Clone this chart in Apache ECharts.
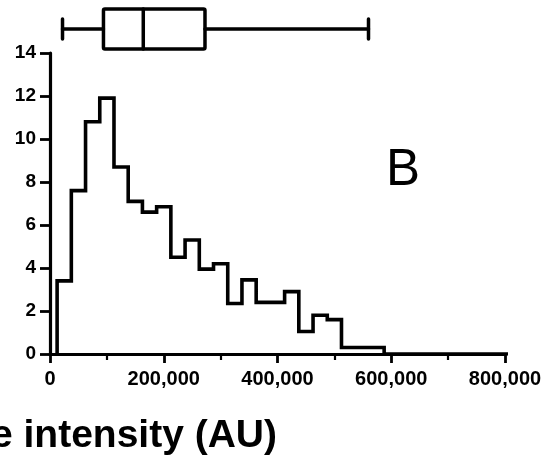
<!DOCTYPE html>
<html>
<head>
<meta charset="utf-8">
<script src="https://cdn.jsdelivr.net/npm/echarts@6/dist/echarts.min.js"></script>
<style>
  html, body { margin: 0; padding: 0; background: #fff; }
  #chart { width: 555px; height: 464px; }
</style>
</head>
<body>
<div id="chart"></div>
<script>
// histogram bins (centre of each bin, width 25,000) and their heights
let binWidth = 25000;
let binCenters = [25000, 50000, 75000, 100000, 125000, 150000, 175000, 200000,
    225000, 250000, 275000, 300000, 325000, 350000, 375000, 400000,
    425000, 450000, 475000, 500000, 525000, 550000, 575000, 600000,
    625000, 650000, 675000, 700000, 725000, 750000, 775000, 800000];
let binValues = [3.4, 7.6, 10.8, 11.9, 8.7, 7.1, 6.6, 6.85,
    4.5, 5.3, 3.95, 4.2, 2.35, 3.45, 2.4, 2.4,
    2.9, 1.05, 1.8, 1.6, 0.3, 0.3, 0.3, 0,
    0, 0, 0, 0, 0, 0, 0, 0];

// box & whiskers: min, Q1, median, Q3, max
let boxStats = [22000, 94000, 164000, 272500, 560000];

let xTicks = [0, 200000, 400000, 600000, 800000];
let yTicks = [0, 2, 4, 6, 8, 10, 12, 14];

let fontFamily = '"Liberation Sans", Arial, sans-serif';

// step line through bin edges: first the left edge at 0, then each right edge with the bin height
let stepData = [[binCenters[0] - binWidth / 2, 0]];
binCenters.forEach((c, i) => {
    stepData.push([c + binWidth / 2, binValues[i]]);
});

let chart = echarts.init(document.getElementById('chart'), null, { renderer: 'canvas' });

let option = {
    backgroundColor: '#fff',
    animation: false,
    grid: [
        { left: 50, right: 50, top: 53, bottom: 110 },
        { left: 50, right: 50, top: 9, height: 40 }
    ],
    xAxis: [{
        gridIndex: 0,
        type: 'value',
        min: xTicks[0],
        max: xTicks[xTicks.length - 1],
        interval: 200000,
        splitLine: { show: false },
        axisLine: { show: true, onZero: false, lineStyle: { color: '#000', width: 3.2 } },
        axisTick: { show: true, length: 9, lineStyle: { color: '#000', width: 2.8 } },
        minorTick: { show: true, splitNumber: 2, length: 6, lineStyle: { color: '#000', width: 2.2 } },
        axisLabel: {
            color: '#000',
            fontFamily: fontFamily,
            fontWeight: 'bold',
            fontSize: 20,
            margin: 15,
            formatter: v => v.toLocaleString('en-US')
        }
    }, {
        gridIndex: 1,
        type: 'value',
        min: xTicks[0],
        max: xTicks[xTicks.length - 1],
        show: false
    }],
    yAxis: [{
        gridIndex: 0,
        type: 'value',
        min: yTicks[0],
        max: yTicks[yTicks.length - 1],
        interval: 2,
        splitLine: { show: false },
        axisLine: { show: true, onZero: false, lineStyle: { color: '#000', width: 3.2 } },
        axisTick: { show: true, length: 10, lineStyle: { color: '#000', width: 2.8 } },
        axisLabel: {
            color: '#000',
            fontFamily: fontFamily,
            fontWeight: 'bold',
            fontSize: 19,
            margin: 14
        }
    }, {
        gridIndex: 1,
        type: 'value',
        min: 0,
        max: 1,
        show: false
    }],
    series: [{
        type: 'line',
        xAxisIndex: 0,
        yAxisIndex: 0,
        step: 'start',
        data: stepData,
        symbol: 'none',
        clip: true,
        lineStyle: { color: '#000', width: 3.6, join: 'miter' }
    }, {
        type: 'custom',
        xAxisIndex: 1,
        yAxisIndex: 1,
        data: [boxStats],
        renderItem: function (params, api) {
            let lo = api.value(0), q1 = api.value(1), med = api.value(2), q3 = api.value(3), hi = api.value(4);
            let pTop = api.coord([q1, 1]);
            let pBot = api.coord([q3, 0]);
            let mid = api.coord([med, 0.5]);
            let lw = api.coord([lo, 0.5]);
            let hw = api.coord([hi, 0.5]);
            let capTop = api.coord([lo, 0.75])[1];
            let capBot = api.coord([lo, 0.25])[1];
            let style = { stroke: '#000', lineWidth: 3.5, fill: null, lineCap: 'round' };
            return {
                type: 'group',
                children: [
                    { type: 'rect', shape: { x: pTop[0], y: pTop[1], width: pBot[0] - pTop[0], height: pBot[1] - pTop[1], r: 1.5 }, style: { stroke: '#000', lineWidth: 3.5, fill: '#fff' } },
                    { type: 'line', shape: { x1: mid[0], y1: pTop[1], x2: mid[0], y2: pBot[1] }, style: style },
                    { type: 'line', shape: { x1: lw[0], y1: lw[1], x2: pTop[0], y2: lw[1] }, style: style },
                    { type: 'line', shape: { x1: pBot[0], y1: hw[1], x2: hw[0], y2: hw[1] }, style: style },
                    { type: 'line', shape: { x1: lw[0], y1: capTop, x2: lw[0], y2: capBot }, style: style },
                    { type: 'line', shape: { x1: hw[0], y1: capTop, x2: hw[0], y2: capBot }, style: style }
                ]
            };
        }
    }],
    graphic: [{
        type: 'text',
        left: 386,
        top: 145,
        style: {
            text: 'B',
            fill: '#000',
            font: '51px ' + fontFamily
        }
    }, {
        type: 'text',
        style: {
            x: 277,
            y: 436,
            text: 'Fluorescence intensity (AU)',
            fill: '#000',
            textAlign: 'right',
            textVerticalAlign: 'middle',
            font: 'bold 39px ' + fontFamily
        }
    }]
};

chart.setOption(option);
</script>
</body>
</html>
